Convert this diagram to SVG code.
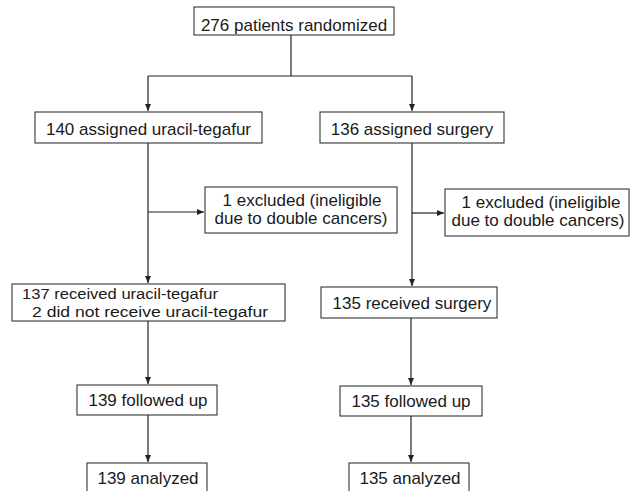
<svg xmlns="http://www.w3.org/2000/svg" width="632" height="491" viewBox="0 0 632 491">
<style>
.box{fill:#fff;stroke:#333;stroke-width:1.1}
.t{font-family:"Liberation Sans",Arial,sans-serif;font-size:17px;fill:#1a1a1a}
.s{font-size:15.5px}
.c{text-anchor:middle}
.ln{fill:none;stroke:#222;stroke-width:1.2}
</style>
<defs>
<marker id="ah" markerWidth="8" markerHeight="8" refX="7" refY="4" orient="auto" markerUnits="userSpaceOnUse">
<path d="M0,1 L7,4 L0,7 Z" fill="#222"/>
</marker>
</defs>
<rect width="632" height="491" fill="#fff"/>
<g id="connectors">
<path class="ln" d="M291,35 V76"/>
<path class="ln" d="M148,76 H412"/>
<path class="ln" d="M148,76 V111" marker-end="url(#ah)"/>
<path class="ln" d="M412,76 V111" marker-end="url(#ah)"/>
<path class="ln" d="M148,143 V283" marker-end="url(#ah)"/>
<path class="ln" d="M148,212 H204" marker-end="url(#ah)"/>
<path class="ln" d="M412,143 V286" marker-end="url(#ah)"/>
<path class="ln" d="M412,213 H444" marker-end="url(#ah)"/>
<path class="ln" d="M148,321 V384" marker-end="url(#ah)"/>
<path class="ln" d="M411,318 V385" marker-end="url(#ah)"/>
<path class="ln" d="M148,415 V462" marker-end="url(#ah)"/>
<path class="ln" d="M411,416 V462" marker-end="url(#ah)"/>
</g>
<g id="randomized">
<rect class="box" x="194" y="7" width="200" height="28"/>
<text class="t c" x="294" y="31">276 patients randomized</text>
</g>
<g id="assigned-ut">
<rect class="box" x="35" y="112" width="227" height="31"/>
<text class="t c" x="148.5" y="135">140 assigned uracil-tegafur</text>
</g>
<g id="assigned-surgery">
<rect class="box" x="320" y="112" width="184" height="31"/>
<text class="t c" x="412" y="135">136 assigned surgery</text>
</g>
<g id="excluded-ut">
<rect class="box" x="205" y="187" width="192" height="46"/>
<text class="t c" x="302" y="206">1 excluded (ineligible</text>
<text class="t c" x="301" y="224">due to double cancers)</text>
</g>
<g id="excluded-surgery">
<rect class="box" x="445" y="189" width="184" height="47"/>
<text class="t c" x="541" y="208">1 excluded (ineligible</text>
<text class="t c" x="538" y="226">due to double cancers)</text>
</g>
<g id="received-ut">
<rect class="box" x="12" y="284" width="273" height="37"/>
<text class="t s" x="22" y="299" textLength="196" lengthAdjust="spacingAndGlyphs">137 received uracil-tegafur</text>
<text class="t s" x="32" y="316.5" textLength="236" lengthAdjust="spacingAndGlyphs">2 did not receive uracil-tegafur</text>
</g>
<g id="received-surgery">
<rect class="box" x="321" y="287" width="176" height="31"/>
<text class="t c" x="412" y="309">135 received surgery</text>
</g>
<g id="followed-ut">
<rect class="box" x="77" y="385" width="140" height="30"/>
<text class="t c" x="148" y="406">139 followed up</text>
</g>
<g id="followed-surgery">
<rect class="box" x="340" y="386" width="142" height="30"/>
<text class="t c" x="411" y="407">135 followed up</text>
</g>
<g id="analyzed-ut">
<rect class="box" x="87" y="463" width="120" height="35"/>
<text class="t c" x="148" y="484">139 analyzed</text>
</g>
<g id="analyzed-surgery">
<rect class="box" x="349" y="463" width="120" height="35"/>
<text class="t c" x="410" y="484">135 analyzed</text>
</g>
</svg>
